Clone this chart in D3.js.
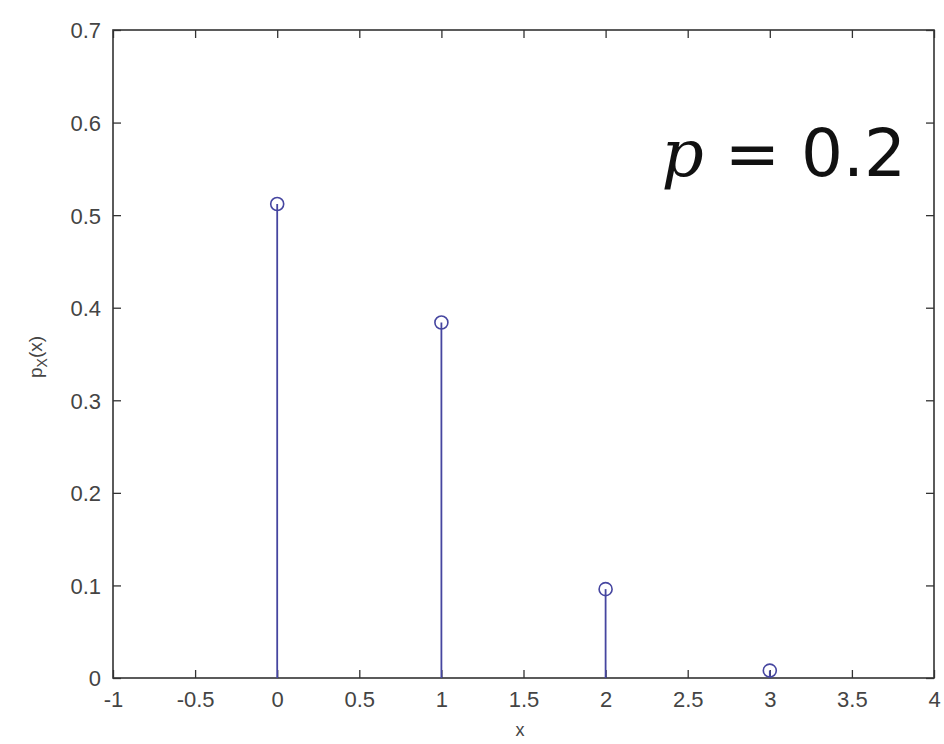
<!DOCTYPE html>
<html><head><meta charset="utf-8">
<script src="https://cdn.jsdelivr.net/npm/d3@7"></script>
<style>body{margin:0;background:#fff}</style>
</head><body>
<svg id="c" width="944" height="744"></svg>
<script>
const xs = [0, 1, 2, 3];
const probs = [0.512, 0.384, 0.096, 0.008];
const xTicks = [-1, -0.5, 0, 0.5, 1, 1.5, 2, 2.5, 3, 3.5, 4];
const yTicks = [0, 0.1, 0.2, 0.3, 0.4, 0.5, 0.6, 0.7];
const xLabelText = "x";
const annot = "0.2";

const svg = d3.select("#c");
const L = 113, R = 934, T = 30, B = 678;
const x = d3.scaleLinear().domain([-1, 4]).range([L, R]);
const y = d3.scaleLinear().domain([0, 0.7]).range([B, T]);
const tc = "#333", txt = "#444", stemC = "#4646a0";
const font = "Liberation Sans, Arial, sans-serif";
const tl = 8;

// axes
const gx = svg.append("g").attr("transform", `translate(0,${B})`)
  .call(d3.axisBottom(x).tickValues(xTicks).tickFormat(d => d3.format("")(d)).tickSize(-tl).tickPadding(13));
const gxt = svg.append("g").attr("transform", `translate(0,${T})`)
  .call(d3.axisTop(x).tickValues(xTicks).tickFormat("").tickSize(-tl));
const gy = svg.append("g").attr("transform", `translate(${L},0)`)
  .call(d3.axisLeft(y).tickValues(yTicks).tickFormat(d => d3.format("")(d)).tickSize(-tl).tickPadding(12));
const gyr = svg.append("g").attr("transform", `translate(${R},0)`)
  .call(d3.axisRight(y).tickValues(yTicks).tickFormat("").tickSize(-tl));
[gx, gxt, gy, gyr].forEach(g => {
  g.select(".domain").remove();
  g.selectAll(".tick line").attr("stroke", tc).attr("stroke-width", 1.3);
  g.selectAll("text").attr("fill", txt).style("font-family", font).style("font-size", "22px");
});
gx.selectAll(".tick text").text(d => d < 0 ? "-" + Math.abs(d) : d);
gy.selectAll(".tick text").attr("dy", "0.36em");

svg.append("rect").attr("x", L).attr("y", T).attr("width", R - L).attr("height", B - T)
  .attr("fill", "none").attr("stroke", tc).attr("stroke-width", 1.6);

// stems
const data = xs.map((v, i) => ({x: v, p: probs[i]}));
svg.append("g").selectAll("line").data(data).join("line")
  .attr("x1", d => x(d.x)).attr("x2", d => x(d.x))
  .attr("y1", y(0)).attr("y2", d => y(d.p))
  .attr("stroke", stemC).attr("stroke-width", 1.8);
svg.append("g").selectAll("circle").data(data).join("circle")
  .attr("cx", d => x(d.x)).attr("cy", d => y(d.p)).attr("r", 6.5)
  .attr("fill", "none").attr("stroke", stemC).attr("stroke-width", 1.6);

// labels
svg.append("text").attr("x", 520).attr("y", 736).attr("text-anchor", "middle")
  .attr("fill", txt).style("font-family", font).style("font-size", "18px").text(xLabelText);
const yl = svg.append("text").attr("transform", "translate(42,357) rotate(-90)")
  .attr("text-anchor", "middle").attr("fill", txt).style("font-family", font).style("font-size", "19px");
yl.append("tspan").text("p");
yl.append("tspan").attr("dy", 5).style("font-size", "14px").text("X");
yl.append("tspan").attr("dy", -5).text("(x)");

// annotation
const an = svg.append("text").attr("x", 906).attr("y", 176).attr("text-anchor", "end")
  .attr("fill", "#111").style("font-size", "66px");
an.append("tspan").style("font-family", "DejaVu Serif, serif").style("font-style", "italic").text("p");
an.append("tspan").style("font-family", "DejaVu Sans, sans-serif").text(" = ");
an.append("tspan").style("font-family", "DejaVu Sans, sans-serif").text(annot);
</script>
</body></html>
